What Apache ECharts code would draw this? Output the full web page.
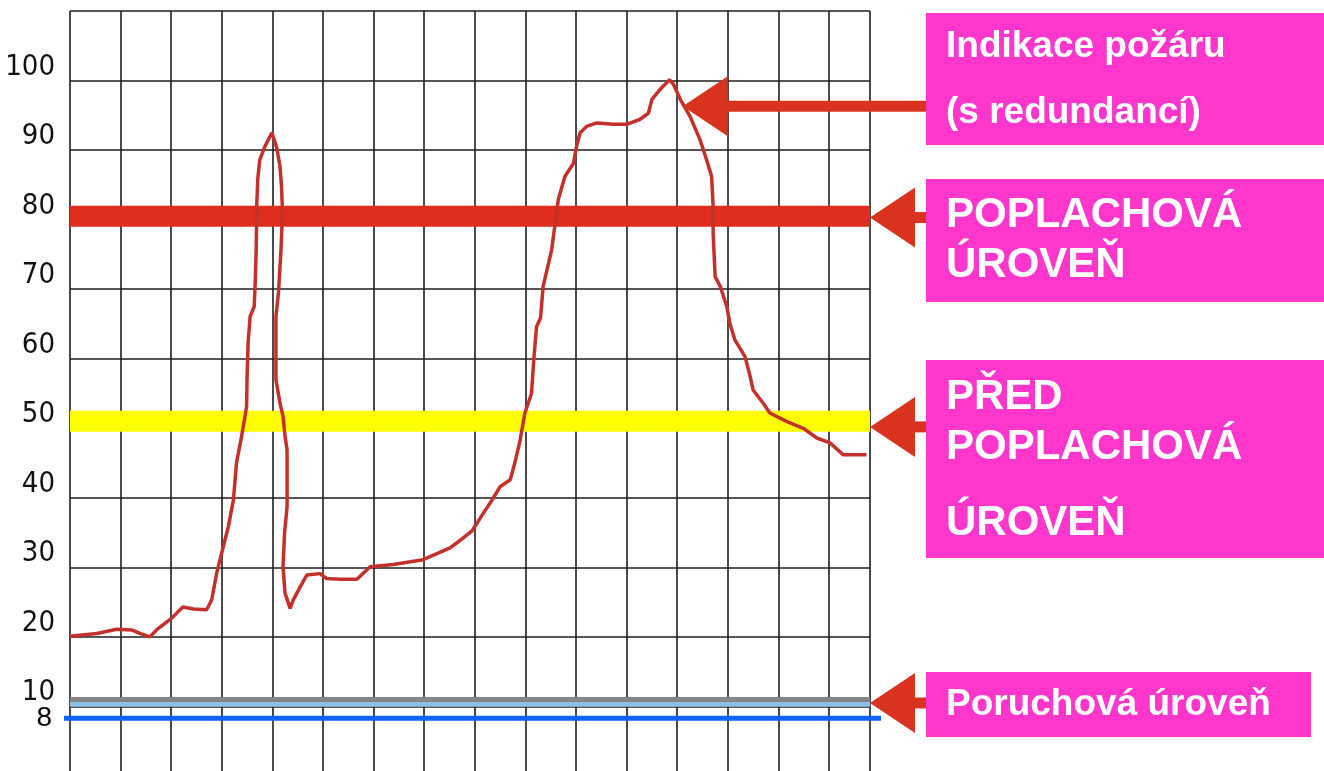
<!DOCTYPE html>
<html>
<head>
<meta charset="utf-8">
<title>Úrovně signálu hlásiče</title>
<script src="https://cdn.jsdelivr.net/npm/echarts@6/dist/echarts.min.js"></script>
<style>
html, body { margin: 0; padding: 0; background: #fff; }
#chart { width: 1324px; height: 771px; }
</style>
</head>
<body>
<div id="chart"></div>
<script>
// průběh signálu: [dílek mřížky na ose x, hodnota]
const signal = [
  [0, 20.1], [0.53, 20.5], [0.92, 21.1], [1.22, 21.0], [1.38, 20.5], [1.58, 20.0], [1.71, 21.0],
  [2.01, 22.7], [2.23, 24.3], [2.44, 24.0], [2.70, 23.9], [2.80, 25.3], [2.90, 29.2], [3.03, 33.0],
  [3.13, 35.9], [3.23, 39.7], [3.29, 45.0], [3.39, 48.8], [3.49, 53.1], [3.50, 57.5], [3.52, 62.3],
  [3.56, 66.1], [3.64, 67.5], [3.66, 70.9], [3.68, 75.7], [3.69, 81.9], [3.71, 85.8], [3.75, 88.6],
  [3.85, 90.5], [3.99, 92.5], [4.08, 90.5], [4.15, 87.7], [4.18, 84.8], [4.20, 81.0], [4.17, 75.7],
  [4.12, 69.5], [4.07, 66.1], [4.07, 57.0], [4.15, 53.6], [4.21, 51.7], [4.25, 48.8], [4.29, 46.9],
  [4.29, 38.7], [4.24, 34.9], [4.21, 30.1], [4.25, 26.3], [4.35, 24.1], [4.41, 25.3], [4.55, 27.2],
  [4.68, 28.9], [4.94, 29.1], [5.07, 28.4], [5.34, 28.3], [5.67, 28.3], [5.93, 30.1], [6.39, 30.4],
  [6.98, 31.1], [7.51, 32.8], [7.64, 33.5], [7.94, 35.2], [8.17, 37.8], [8.36, 39.9], [8.50, 41.6],
  [8.70, 42.6], [8.79, 45.0], [8.89, 48.1], [8.99, 52.2], [9.12, 55.0], [9.17, 60.3], [9.22, 64.6],
  [9.30, 65.9], [9.35, 70.4], [9.52, 75.7], [9.65, 82.9], [9.78, 86.2], [9.95, 88.1], [10.01, 90.5],
  [10.08, 92.5], [10.21, 93.4], [10.41, 93.9], [10.74, 93.7], [11.0, 93.7], [11.26, 94.4], [11.43, 95.3],
  [11.50, 97.3], [11.66, 98.7], [11.85, 100.1], [11.93, 99.4], [12.06, 97.3], [12.25, 94.9], [12.45, 91.5],
  [12.58, 88.6], [12.68, 86.2], [12.71, 81.9], [12.71, 78.0], [12.75, 71.8], [12.85, 70.4], [12.98, 67.5],
  [13.04, 65.1], [13.14, 62.7], [13.34, 60.3], [13.44, 57.5], [13.50, 55.5], [13.70, 53.6], [13.83, 52.2],
  [14.16, 51.0], [14.49, 50.0], [14.76, 48.6], [15.02, 47.9], [15.28, 46.2], [15.74, 46.2]
]
const xMax = 15.81
const yMax = 110
const yTicks = [10, 20, 30, 40, 50, 60, 70, 80, 90, 100]

const alarmLevel = 80.5     // poplachová úroveň
const preAlarmLevel = 51    // před poplachová úroveň
const faultGray = 11.0      // poruchová úroveň
const faultBlue = 10.3
const minLevel = 8.3
const minLabel = '8'

// kam míří šipky [x, hodnota]
const arrowTargets = [[12.11, 96.3], [xMax, 80.3], [xMax, 50.2], [xMax, 10.5]]

const boxes = [
  { y: 13, h: 132, w: 398, size: 37, lines: [['Indikace požáru', 47], ['(s redundancí)', 113]] },
  { y: 179, h: 123, w: 398, size: 42, lines: [['POPLACHOVÁ', 215], ['ÚROVEŇ', 265]] },
  { y: 360, h: 198, w: 398, size: 42, lines: [['PŘED', 397], ['POPLACHOVÁ', 447], ['ÚROVEŇ', 523]] },
  { y: 672, h: 65, w: 385, size: 37, lines: [['Poruchová úroveň', 705]] }
]

const chart = echarts.init(document.getElementById('chart'))
const gridLine = { show: true, lineStyle: { color: '#1e1e1e', width: 1.6 } }

function band (value, color, width) {
  return {
    type: 'line',
    xAxisIndex: 0,
    yAxisIndex: 0,
    data: [[0, value], [xMax, value]],
    showSymbol: false,
    symbol: 'none',
    silent: true,
    z: 2,
    lineStyle: { color: color, width: width, cap: 'butt' }
  }
}

chart.setOption({
  animation: false,
  backgroundColor: '#fff',
  grid: [
    { left: 70, right: 454, top: 11, bottom: -5, outerBoundsMode: 'none' },
    { left: 64, right: 443, top: 11, bottom: -5, outerBoundsMode: 'none' }
  ],
  xAxis: [
    {
      type: 'value', gridIndex: 0, min: 0, max: xMax, interval: 1,
      axisLine: { show: false }, axisTick: { show: false }, axisLabel: { show: false },
      splitLine: gridLine
    },
    { type: 'value', gridIndex: 1, min: 0, max: 1, show: false }
  ],
  yAxis: [
    {
      type: 'value', gridIndex: 0, min: 0, max: yMax, interval: 10,
      axisLine: { show: false }, axisTick: { show: false },
      axisLabel: {
        margin: 15,
        fontFamily: '"Liberation Sans Narrow", "DejaVu Sans Condensed", sans-serif',
        fontSize: 29,
        color: '#111',
        verticalAlign: 'bottom',
        lineHeight: 27,
        formatter: v => yTicks.includes(v) ? String(v) : ''
      },
      splitLine: gridLine
    },
    {
      type: 'value', gridIndex: 1, min: 0, max: yMax,
      axisLine: { show: false }, axisTick: { show: false }, splitLine: { show: false },
      axisLabel: {
        customValues: [minLevel],
        margin: 12,
        fontFamily: '"Liberation Sans", Arial, sans-serif',
        fontSize: 28,
        color: '#000',
        formatter: () => minLabel
      }
    }
  ],
  series: [
    band(alarmLevel, '#df2e1e', 21),
    band(preAlarmLevel, '#ffff00', 21),
    band(faultBlue, '#8cc2ea', 5),
    band(faultGray, '#858585', 5),
    {
      type: 'line',
      xAxisIndex: 1,
      yAxisIndex: 1,
      silent: true,
      z: 2,
      symbol: 'none',
      showSymbol: false,
      lineStyle: { color: '#0a66ff', width: 5 },
      data: [[0, minLevel], [1, minLevel]]
    },
    {
      type: 'line',
      xAxisIndex: 0,
      yAxisIndex: 0,
      data: signal,
      showSymbol: false,
      symbol: 'none',
      silent: true,
      z: 3,
      lineStyle: { color: '#c4302a', width: 3.5 }
    }
  ]
})

// šipky a růžové popisky
const arrowColor = '#d9321f'
const boxLeft = 926
const graphics = []

arrowTargets.forEach(([xv, yv]) => {
  const [tipX, tipY] = chart.convertToPixel({ gridIndex: 0 }, [xv, yv])
  const baseX = tipX + 45
  graphics.push({
    type: 'polygon',
    shape: { points: [[tipX, tipY], [baseX, tipY - 30], [baseX, tipY + 30]] },
    style: { fill: arrowColor },
    z: 10
  })
  graphics.push({
    type: 'rect',
    shape: { x: baseX - 1, y: tipY - 5.5, width: boxLeft - baseX + 1, height: 11 },
    style: { fill: arrowColor },
    z: 10
  })
})

boxes.forEach(b => {
  graphics.push({
    type: 'rect',
    shape: { x: boxLeft, y: b.y, width: b.w, height: b.h },
    style: { fill: '#ff36cb' },
    z: 11
  })
  b.lines.forEach(([txt, cy]) => {
    graphics.push({
      type: 'text',
      x: 946,
      y: cy,
      z: 12,
      style: {
        text: txt,
        fill: '#fff',
        font: 'bold ' + b.size + 'px "Liberation Sans", Arial, sans-serif',
        align: 'left',
        verticalAlign: 'middle'
      }
    })
  })
})

chart.setOption({ graphic: graphics })
</script>
</body>
</html>
